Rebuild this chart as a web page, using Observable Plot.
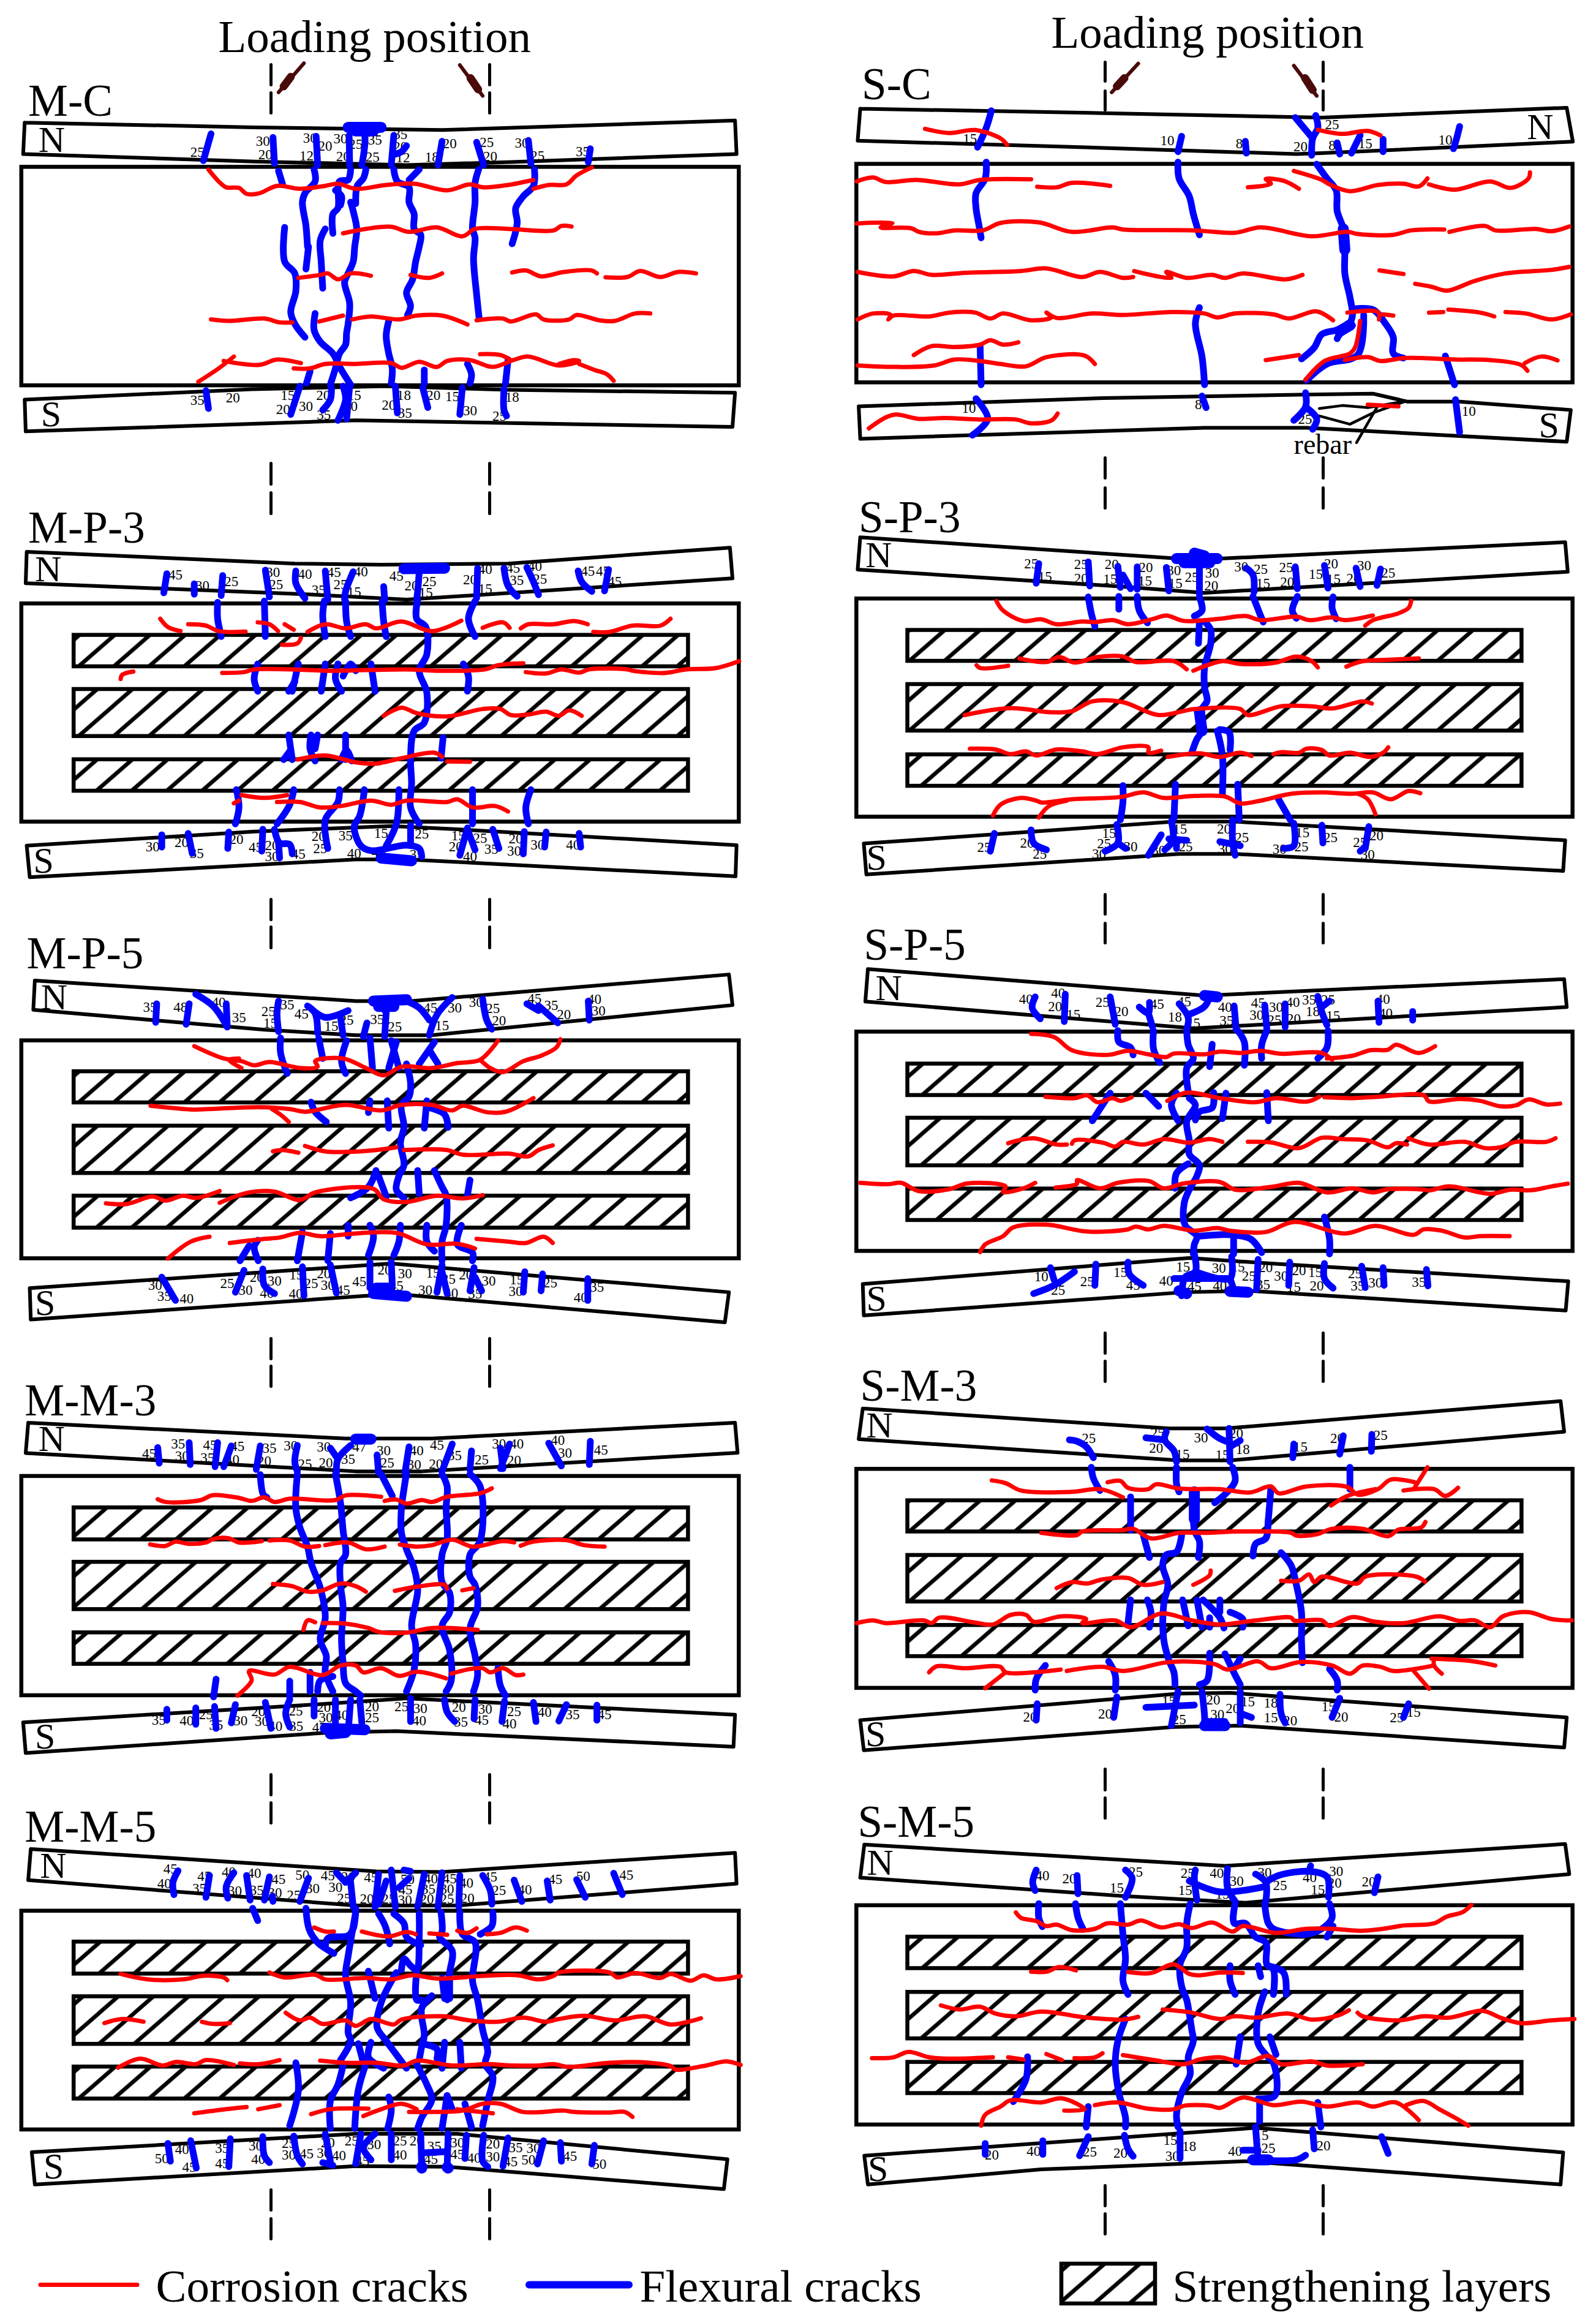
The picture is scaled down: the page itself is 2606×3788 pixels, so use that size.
<!DOCTYPE html>
<html><head><meta charset="utf-8">
<style>html,body{margin:0;padding:0;background:#fff;overflow:hidden}svg{display:block}</style>
<script src="https://cdn.jsdelivr.net/npm/d3@7"></script>
<script src="https://cdn.jsdelivr.net/npm/@observablehq/plot@0.6"></script>
</head><body><div id="chart"></div>
<script>
// Every panel's values are read in a reading frame [left, top, width, height] of the picture, with 1568 units each way.
const mcFrame=[0,0,1300,760], scFrame=[1300,0,1306,760], mp3Frame=[0,800,1300,700], mp5Frame=[0,1500,1300,700], mm3Frame=[0,2230,1300,700], mm5Frame=[0,2930,1300,700], sp3Frame=[1300,800,1306,700], sp5Frame=[1300,1500,1306,700], sm3Frame=[1300,2230,1306,700], sm5Frame=[1300,2930,1306,700];

// ---------- M-C ----------
const mcBox=[42,562,1455,1298];
const mcBeams=[[48,412,500,428,870,437,1447,405,1450,518,1000,545,800,555,500,543,45,518],[48,1345,495,1310,760,1300,1000,1312,1447,1322,1442,1437,870,1420,700,1415,50,1452]];
const mcFlex=[[415,450,400,540],[537,462,540,550],[548,575,556,620],[622,458,625,555],[618,570,620,610,600,650,595,680,602,760,605,830],[607,830,602,905],[687,455,688,555],[710,425,718,460,712,555],[775,455,770,555],[800,490,790,510,775,520],[870,475,862,555],[938,478,952,555],[1040,472,1045,550],[1162,500,1158,545],[690,570,685,605,668,610,665,700,655,720,655,785],[720,570,715,600,703,625,700,685],[660,640,672,660,670,690],[775,570,782,610,805,630,805,680,815,720,815,770,828,790,825,830,818,880,812,940,800,985,808,1030,802,1060],[825,570,805,605],[690,680,695,710,702,770,698,830,695,880,685,920,678,950,688,1020,685,1090,682,1120,680,1160,668,1190,660,1240,650,1295],[640,770,630,810,632,880,635,970],[560,765,560,880,580,920,582,980,572,1050,580,1090,600,1135],[942,570,935,615,935,680,930,770,935,800,932,870,938,990,943,1070],[1052,570,1050,625,1030,660,1015,700,1018,750,1008,820],[620,1055,618,1110,630,1150,655,1190,670,1240,690,1295],[765,1080,760,1130,765,1190,772,1240,770,1290],[610,1250,603,1290],[835,1245,835,1290],[920,1225,928,1260,925,1290],[1000,1210,995,1290],[405,1315,410,1375],[590,1300,572,1395],[652,1300,650,1345,635,1380],[778,1300,782,1390],[832,1305,842,1372],[910,1305,905,1395],[992,1310,992,1380,997,1400],[675,1300,680,1345,665,1415],[688,1300,682,1410]];
const mcBlobs=[[685,428,750,428],[700,440,735,440]];
const mcCorr=[[410,570,430,610,445,630,470,632,485,652,510,650,545,625,590,635,640,625,665,618,700,635,760,622,815,618,880,640,925,620,950,630,1000,622,1050,605],[1050,635,1080,622,1115,620,1135,590,1165,563],[675,785,720,770,770,763,805,780,860,765,910,795,935,770,1000,770,1090,775,1105,760,1125,762],[587,935,630,925,645,920,665,940,690,920,730,928],[808,925,845,935,870,920],[1008,917,1035,910,1065,930,1110,915,1165,910,1175,920],[1192,933,1235,932,1260,912,1300,932,1335,915,1370,920],[415,1075,450,1080,520,1072,550,1085,575,1085],[628,1082,675,1062],[693,1075,730,1065,785,1075,820,1062,870,1062,920,1092],[938,1078,990,1072,1005,1082,1055,1058,1070,1075,1120,1075,1135,1060,1180,1078,1210,1080,1250,1055,1280,1055],[390,1285,430,1240,460,1200],[440,1215,510,1228,545,1210,592,1222],[578,1240,610,1240,640,1225,700,1225,770,1222,790,1238,825,1218,860,1235,880,1215,925,1212,970,1235,1010,1212,1040,1200,1100,1230,1140,1215,1130,1212,1100,1225],[945,1192,985,1195,1005,1212],[1140,1225,1170,1245,1195,1260,1208,1282]];
const mcLabels=[25,388,512,30,517,475,20,522,520,30,610,465,20,640,492,12,603,525,30,670,467,20,675,527,25,700,485,35,738,470,25,733,528,35,788,453,20,788,493,12,793,530,18,850,528,20,885,483,25,958,478,20,965,527,30,1027,480,25,1058,525,35,1147,510,35,388,1348,20,458,1340,15,566,1332,20,557,1378,30,602,1368,20,636,1332,35,637,1398,15,697,1332,30,690,1368,20,765,1365,18,795,1332,35,797,1390,20,853,1332,15,890,1335,30,925,1382,18,1008,1337,25,983,1402];

// ---------- S-C ----------
const scBox=[118,552,1522,1288];
const scBeams=[[125,365,600,380,1030,395,1510,362,1522,476,1030,515,980,518,600,497,120,473],[122,1368,600,1340,1000,1328,1130,1325,1198,1352,1300,1352,1518,1380,1510,1487,1000,1440,800,1440,125,1477]];
const scRebar=[[1025,1375,1070,1365,1120,1372,1195,1350],[1025,1400,1085,1428,1130,1390,1195,1350],[1140,1365,1098,1490]];
const scFlex=[[382,372,372,430,355,495],[755,458,748,510],[880,475,882,515],[1018,388,1022,430,1012,465,1010,522],[978,395,1012,465],[1060,480,1065,518],[1105,455,1088,515],[1150,468,1150,510],[1300,425,1295,460,1288,500],[372,545,370,600,352,650,352,700,358,760,362,800],[748,545,750,600,770,660,778,720,790,790],[1020,552,1040,600,1058,640,1060,710,1072,770,1075,840,1075,920,1085,1000,1090,1060,1085,1090],[1090,1040,1130,1042,1155,1090,1170,1135,1170,1190,1190,1205],[1085,1085,1060,1110,1030,1125,1015,1170,990,1208],[1090,1095,1065,1125,1060,1140],[1112,1060,1100,1195,1040,1225,1000,1280],[360,1165,362,1295],[790,1035,782,1090,795,1200,800,1295],[1272,1198,1290,1295],[352,1342,375,1410,345,1465],[795,1333,803,1372],[998,1322,998,1370,975,1415],[998,1370,1020,1410,1012,1445],[1292,1345,1300,1455]];
const scBlobs=[[1072,770,1075,840],[1085,1095,1065,1115]];
const scCorr=[[252,433,300,447,350,437,400,465,413,487],[1022,436,1070,450,1120,440,1145,455],[118,610,150,597,175,612,235,605,320,620,360,605,460,603],[472,628,510,630,540,615,615,625],[885,630,930,618,920,602,955,608,985,635],[975,575,1030,605,1045,620,1085,643,1140,622,1190,618,1220,627,1237,600],[1240,620,1290,638,1360,610,1400,632,1435,600,1438,580],[118,752,188,750,165,765,225,768,240,780,275,785,310,775,365,775,400,750,475,748,540,780,620,765,640,772,780,775,860,783,910,765,1010,795,1080,780,1100,787,1170,790,1205,775,1270,772],[1280,780,1350,760,1370,775,1450,770,1480,778,1515,762],[120,915,190,930,230,912,265,925,330,918,440,912,490,903,560,932,595,915,640,935,660,932],[662,912,735,935,725,915,765,935,815,925,840,935,875,920,960,940,992,925],[1143,910,1190,922],[1213,955,1245,965,1275,978,1330,945,1390,920,1480,908,1515,898],[120,1075,150,1055,185,1060,180,1075,190,1062,260,1065,300,1052,350,1052,380,1072,405,1055,460,1078,500,1068,490,1052,510,1070,580,1055,640,1060,735,1050,800,1055,825,1068,860,1055,935,1058,965,1072,1020,1048,1052,1078],[1080,1052,1140,1050,1142,1075],[1150,1058,1170,1062],[1240,1052,1268,1050],[1278,1042,1340,1052,1368,1065],[1390,1050,1430,1055,1480,1075,1518,1058],[230,1195,265,1165,310,1168,360,1160,380,1145,405,1160,435,1152],[120,1230,190,1235,270,1230,310,1210,360,1215,400,1225,450,1233,490,1202,565,1197,585,1225],[920,1212,985,1195],[1105,1080,1095,1170,1085,1190,1035,1215,998,1278],[1075,1212,1120,1202,1145,1215,1190,1205,1225,1205,1290,1210,1360,1212,1420,1228,1433,1248],[1428,1222,1460,1200,1492,1213],[142,1442,175,1405,195,1395,240,1410,290,1407,360,1412,430,1412,460,1425,500,1415,512,1392],[1120,1362,1180,1368]];
const scLabels=[15,340,467,10,727,473,8,868,483,25,1050,420,20,988,493,8,1050,490,15,1115,483,10,1272,470,10,338,1375,8,788,1362,25,997,1412,10,1318,1385];

// ---------- M-P-3 ----------
const mp3Box=[42,415,1455,1213];
const mp3Layers=[[145,530,1355,645,155],[145,728,1355,900,155],[145,985,1355,1100,190]];
const mp3Beams=[[52,225,580,268,750,272,1000,268,1437,210,1442,322,800,400,600,380,50,340],[52,1300,500,1248,770,1228,900,1240,1450,1298,1448,1412,800,1350,700,1350,58,1415]];
const mp3Flex=[[328,305,322,375],[382,342,382,380],[438,312,435,385],[522,292,530,390],[582,295,582,340,600,395],[640,295,645,400],[695,298,680,370,678,400],[755,352,757,400],[825,300,822,370,820,400],[940,285,938,395],[992,285,1000,350,1018,388],[1037,282,1050,335,1060,382],[1138,295,1145,335,1165,370],[1198,290,1190,368],[428,410,428,470,435,535],[520,405,522,535],[638,405,635,460,640,535],[680,405,682,480,690,535],[752,405,755,480,760,535],[822,400,820,470,838,500,840,600,825,660,840,740,835,850,815,880,808,980,810,1070,808,1160,825,1220],[935,405,922,470,935,535],[507,635,500,690,507,735],[587,635,575,735],[568,735,580,700],[640,635,632,735],[665,635,660,690,672,735],[700,660,690,635,675,680],[730,635,738,735],[912,635,922,680,920,735],[568,895,575,985],[558,985,572,950],[612,895,610,945,620,990],[625,895,620,945],[680,895,680,985],[672,985,682,950,692,990],[872,905,868,980],[465,1095,470,1160,463,1220],[578,1095,570,1150,545,1220],[668,1095,665,1140,640,1205,645,1310],[717,1095,708,1190,697,1230,710,1300,730,1318,800,1298,825,1310,830,1340],[785,1095,780,1220,760,1300],[808,1225,808,1300],[930,1095,930,1220],[1045,1095,1035,1160,1040,1220],[318,1260,318,1305],[370,1255,378,1328],[450,1250,448,1310],[517,1240,515,1320],[540,1240,550,1290,570,1295,575,1330],[550,1345,548,1290],[920,1235,905,1335],[920,1240,935,1315],[970,1240,982,1310],[1032,1248,1030,1330],[1075,1250,1072,1305],[1140,1255,1143,1305]];
const mp3Blobs=[[795,287,875,285],[750,1345,810,1355]];
const mp3Corr=[[315,470,330,500,355,515],[370,490,405,495,430,515,483,517],[507,483,530,490,547,515],[560,490,578,510],[605,518,640,490,680,505,720,490,740,505,790,480,850,515,908,477],[950,503,990,483,1003,503],[1025,505,1040,490,1090,490,1130,478,1157,490],[1168,518,1200,518,1245,495,1300,495,1320,470],[555,565,585,560,592,540],[237,690,240,675,262,663],[437,668,480,665,500,655,600,657,650,660,800,655,860,660,955,655,980,640,1030,633],[1035,665,1075,670,1105,655,1140,667,1160,655,1235,655,1245,660,1310,668,1350,655,1410,650,1455,625],[755,825,790,795,820,815,880,827,950,800,985,800,1005,822,1040,820,1075,810,1100,825,1120,805,1145,825],[585,985,640,970,700,995,740,1000,755,995,790,980,855,960,870,975],[880,992,925,993],[475,1115,520,1125,565,1115],[460,1145,470,1135],[545,1140,590,1140,630,1160,670,1155,730,1135,770,1150,800,1135,880,1140,900,1130,930,1160,975,1155,1000,1175]];
const mp3Labels=[45,345,310,30,398,350,25,455,333,30,537,300,25,543,345,40,600,308,35,627,365,45,657,300,25,670,345,40,710,298,15,697,372,45,780,313,20,810,350,25,845,335,15,838,375,40,955,290,20,925,327,15,955,362,45,1010,285,35,1017,330,40,1053,278,25,1063,325,45,1157,295,45,1187,295,45,1210,335,30,300,1303,20,357,1288,35,387,1328,20,465,1278,45,503,1307,20,535,1300,30,535,1340,45,587,1330,20,627,1265,25,630,1310,35,680,1263,40,697,1328,15,750,1255,45,745,1325,25,830,1258,35,820,1333,15,902,1263,25,945,1272,20,897,1303,40,925,1340,35,967,1312,20,1015,1275,30,1012,1320,30,1058,1298,40,1128,1298];

// ---------- M-P-5 ----------
const mp5Box=[42,445,1455,1242];
const mp5Layers=[[145,558,1355,672,155],[145,757,1355,930,155],[145,1013,1355,1130,190]];
const mp5Beams=[[68,225,700,300,810,300,1435,203,1442,315,850,425,700,425,520,405,65,332],[58,1350,770,1260,1435,1365,1427,1475,800,1375,720,1378,60,1465]];
const mp5Flex=[[308,310,306,378],[372,310,366,385],[385,275,420,320,447,395],[445,310,447,395],[548,300,545,345,548,412],[605,318,620,345,625,418],[610,325,640,360,685,335],[670,360,675,425],[722,380,715,430],[740,300,760,340],[760,340,757,430],[800,300,825,325,845,370],[890,287,860,350,845,425],[950,293,958,370,968,403],[1037,310,1060,335],[1060,318,1098,380],[1158,300,1160,370],[552,435,552,490,565,565],[627,435,635,510],[682,445,672,520,680,565],[728,435,733,545],[780,450,765,545],[770,445,785,545],[855,450,825,530],[845,480,862,530],[800,530,808,600,805,650,790,680,795,760,788,820,795,900,785,940,780,990,795,1020],[612,670,620,705,642,742],[728,665,725,708],[762,665,765,765],[840,665,835,765],[845,690,875,715,882,762],[740,920,725,980,690,1020],[745,940,760,1015],[822,920,825,1005],[855,920,870,980,878,1010,878,1120,870,1180,870,1250],[925,955,920,1010],[685,1120,685,1160],[728,1120,735,1160,725,1230],[788,1120,785,1180,775,1230],[840,1120,840,1180,855,1215],[908,1120,900,1190,930,1220,930,1250],[650,1150,645,1250],[595,1145,585,1250],[490,1195,472,1250],[507,1175,500,1200,508,1250],[318,1310,345,1395],[480,1285,463,1365],[517,1280,520,1340,540,1370],[595,1272,598,1378],[650,1265,662,1368],[728,1255,728,1350],[770,1255,772,1340],[870,1265,860,1365],[870,1290,880,1370],[933,1275,925,1360],[935,1310,948,1360],[1033,1290,1030,1365],[1068,1298,1065,1360],[1157,1315,1157,1395]];
const mp5Blobs=[[735,300,800,295],[745,320,775,320],[735,1370,800,1380],[740,1350,765,1350]];
const mp5Corr=[[382,465,440,510,475,520,500,535,530,523,590,545,625,540,620,520,675,510,720,545,755,572,790,540,850,545,900,527,945,515,980,445],[470,510,450,515,475,545],[945,515,965,545,990,560,1030,520,1065,500,1095,470,1103,440],[296,683,380,697,410,695,510,688,570,695,600,705,680,680,750,700,790,680,850,680,890,700,910,683,960,707,995,705,1050,655],[535,695,555,720,568,742],[537,850,555,845,587,855],[600,830,640,850,680,852,740,845,780,835],[795,845,880,845,910,862,1000,858,1040,868,1060,845,1088,828],[208,1040,250,1042,300,1015,325,1030,360,1012,385,1020,432,995],[432,1038,490,1000,540,997,590,1028,620,1000,735,987,755,1025,800,1035,860,1012,910,1022,950,1010],[330,1242,375,1180,412,1162],[452,1185,520,1170,550,1165,590,1148,630,1160,700,1150,780,1148,840,1190,900,1188,935,1205],[938,1170,1000,1180,1035,1185,1070,1162,1088,1185]];
const mp5Labels=[35,295,323,48,355,322,40,430,305,35,470,362,35,565,313,25,528,338,15,532,380,45,593,347,15,652,392,25,682,370,35,742,367,25,777,395,45,847,325,30,895,325,15,870,390,30,937,305,25,970,327,20,982,372,45,1052,292,35,1085,315,20,1110,350,40,1170,293,30,1178,337,30,305,1340,35,323,1380,40,367,1388,25,447,1332,30,483,1357,20,505,1310,30,540,1323,40,525,1370,15,583,1302,25,612,1332,40,582,1372,20,637,1298,30,645,1340,45,675,1358,45,707,1327,20,757,1283,30,797,1298,45,780,1342,15,852,1295,25,883,1317,30,837,1358,40,888,1368,20,917,1302,30,962,1325,35,935,1372,15,1017,1320,30,1015,1362,25,1083,1330,35,1175,1347,40,1143,1385];

// ---------- M-M-3 ----------
const mm3Box=[42,403,1455,1205];
const mm3Layers=[[145,518,1355,635,208],[145,717,1355,890,210],[145,975,1355,1090,170]];
const mm3Beams=[[55,207,680,265,850,265,1447,207,1452,317,830,385,700,385,50,318],[45,1303,600,1240,800,1215,1447,1275,1444,1392,780,1335,650,1340,50,1415]];
const mm3Flex=[[310,298,313,355],[372,280,374,360],[428,280,423,368],[455,292,440,368],[512,292,504,378],[585,290,580,350,585,385],[650,300,665,340],[690,290,665,340,662,390],[742,325,745,390],[805,295,797,390],[890,285,870,385],[928,310,925,380],[985,300,990,375],[1003,285,985,375],[1080,282,1105,365],[1162,275,1160,360],[512,397,518,470,525,480],[585,395,582,520,590,590,605,660,612,720,630,810,640,920,630,1000,642,1060,640,1120,655,1190],[660,395,670,500,675,600,680,690,670,720,670,800,675,880,672,1000,675,1085,680,1160,700,1190,710,1205],[750,395,772,475],[800,390,795,450,790,520,790,610,800,670,815,740,822,820,810,950,818,1020,815,1110,800,1190],[870,395,880,440,878,520,880,630,870,690,870,790,885,830,885,900,870,950,885,1040,888,1150,878,1190],[925,395,945,440,945,640,925,690,925,770,935,800,940,880,925,960,935,1060,940,1130,932,1190],[425,1145,420,1210],[570,1152,570,1210],[610,1120,610,1190],[625,1190,630,1150,655,1135],[980,1105,985,1170,995,1205],[328,1255,328,1295],[385,1250,385,1310],[422,1245,425,1325],[463,1238,455,1305],[522,1230,533,1325],[570,1220,562,1270,570,1320],[618,1220,618,1280],[660,1220,660,1340],[690,1220,685,1340],[708,1220,712,1305],[808,1215,808,1300],[875,1220,880,1265,895,1300],[935,1220,933,1290],[993,1225,988,1300],[1050,1230,1055,1300],[1115,1238,1100,1298],[1175,1240,1175,1295]];
const mm3Blobs=[[700,267,730,267],[640,1325,718,1330],[650,1345,680,1340]];
const mm3Corr=[[310,487,325,497,395,490,418,472,470,482,495,493,520,480,540,497,570,485,660,490,680,473,750,478],[757,493,780,488,800,503,830,490,850,497,880,478,945,465,968,447],[295,652,325,658,345,642,370,650,405,645,420,632,450,630,470,645,515,640],[530,638,570,638,600,660,628,658],[640,655,685,645,720,670,757,660],[787,653,820,660,850,655,890,635,930,660,990,640,1012,645],[1025,657,1050,642,1115,637,1150,655,1190,660],[537,797,575,805,605,825,635,820,670,795,700,805,720,825],[777,822,820,807,875,800,880,815],[910,820,932,812],[597,965,605,930,620,937],[635,940,680,942,725,958,745,972,800,975,850,958,940,965],[467,1205,495,1150,490,1115,540,1128,570,1100,635,1130,670,1095,700,1095,715,1120,750,1105,785,1133,820,1118,878,1142],[888,1125,925,1108,950,1105,965,1120,990,1105,1015,1130,1030,1128]];
const mm3Labels=[45,293,320,35,350,285,30,358,330,45,413,290,35,408,337,45,467,293,40,457,343,35,530,300,20,520,348,30,572,292,25,600,358,30,637,295,20,641,355,35,685,340,47,707,295,30,755,310,25,762,355,40,820,310,30,815,360,45,860,290,20,858,358,35,895,327,25,948,343,30,982,285,40,1017,285,20,1012,345,40,1098,272,30,1112,318,45,1183,307,35,312,1295,40,367,1298,25,405,1275,35,425,1312,30,473,1297,20,508,1263,30,515,1300,40,542,1318,25,582,1262,35,583,1318,20,637,1248,30,641,1285,47,628,1322,40,672,1277,20,732,1245,25,732,1287,25,790,1245,30,827,1253,40,825,1297,20,903,1248,35,907,1302,30,955,1255,45,948,1295,25,1012,1263,40,1003,1308,40,1072,1265,35,1127,1275,45,1190,1275];

// ---------- M-M-5 ----------
const mm5Box=[42,425,1455,1225];
const mm5Layers=[[145,538,1355,655,195],[145,738,1355,912,195],[145,995,1355,1112,155]];
const mm5Beams=[[60,198,740,280,870,282,1447,212,1450,325,900,405,700,405,55,312],[62,1307,700,1240,900,1240,1432,1333,1425,1442,880,1360,700,1358,68,1425]];
const mm5Flex=[[350,278,340,320,342,365],[412,295,405,375],[460,285,445,335,448,378],[485,295,492,385],[530,300,520,385],[536,370,537,390],[607,305,590,390],[662,285,680,320],[680,320,700,285],[690,320,695,410],[745,290,738,410],[760,315,745,400],[770,275,778,410],[795,275,808,280],[805,305,785,340],[835,290,822,410],[870,285,862,410],[905,295,903,410],[950,295,965,350,968,400],[1012,312,1027,390],[1077,315,1083,385],[1135,310,1152,375],[1208,287,1225,365],[497,415,507,460],[602,415,608,490,625,540,657,580],[700,415,695,490,685,515,645,525,640,560],[700,430,685,590,680,660,690,760,685,870,690,900,670,970],[745,435,758,480,767,545],[775,435,795,470,800,520,828,550],[825,435,825,520,820,640,808,625,795,600,790,640],[868,430,870,500,865,520,890,570,885,650,880,750],[905,430,910,510,935,540,930,680,940,750,950,860,960,940,955,985,970,1030,960,1120,950,1210],[970,430,968,480,945,510],[725,645,738,745],[780,650,750,760,742,850,760,900,780,950,800,1000],[820,650,820,750,830,750],[850,735,830,780,835,880,830,920,825,970],[870,670,875,745],[885,680,885,745],[830,910,860,930,860,965],[875,905,870,1000],[705,910,715,980],[730,905,725,960,755,1000],[905,905,908,1000],[582,980,587,1080,570,1210],[675,990,665,1060,650,1120,650,1220],[720,985,705,1080,698,1220],[820,985,840,1060,850,1115,830,1180,822,1220],[765,1105,770,1150,763,1220],[880,1100,870,1220],[880,1100,890,1150],[915,1130,928,1215],[330,1275,335,1340],[375,1265,386,1365],[453,1258,450,1360],[517,1250,520,1320,530,1345],[578,1248,585,1320,595,1350],[640,1240,650,1340],[635,1345,655,1355],[710,1240,700,1350],[738,1240,715,1290,730,1335],[770,1240,770,1335],[828,1240,830,1365],[882,1240,880,1365],[830,1310,880,1305],[918,1245,915,1330],[952,1245,950,1340,960,1360],[1000,1255,990,1358],[1070,1265,1058,1350],[1103,1272,1105,1340],[1170,1282,1165,1350]];
const mm5Blobs=[[830,1360,830,1365],[880,1362,882,1365]];
const mm5Corr=[[618,485,640,500,657,500],[712,500,765,518,800,502,818,510],[845,507,880,512],[900,497,920,505,938,488],[958,510,985,505,1015,485,1037,497],[237,655,290,675,360,675,400,662,440,668,447,678],[530,650,560,668,620,658,640,675,720,670,770,675,810,660,860,672,930,665,970,660,1020,660,1060,675,1090,662,1100,650,1200,650,1215,668,1250,652,1300,670,1320,655,1360,680,1385,660,1410,675,1458,663],[205,835,240,820,282,830],[397,830,420,838,452,835],[562,797,590,825,610,815,635,838,680,825,700,845,730,820,775,840,790,822,870,810,925,825,980,830,1030,815,1075,830,1100,820,1150,808,1210,825,1270,810,1320,840,1380,817],[232,998,275,965,320,990,345,977,385,985,405,970,460,988],[472,982,510,985,550,970],[630,972,680,980,740,980,795,990,820,972,890,990,960,985,1010,990,1060,990,1090,985,1120,995,1200,980,1260,978,1320,992,1330,1005,1390,990,1430,975,1458,988],[382,1165,435,1152,485,1142],[508,1150,550,1135],[612,1168,650,1150,725,1148],[715,1175,750,1150,790,1130,820,1150],[805,1160,850,1160,910,1155,950,1130,985,1130,1030,1160,1110,1155,1130,1160,1200,1162,1230,1160,1245,1178],[900,1150,970,1165]];
const mm5Labels=[45,335,272,40,323,325,45,402,298,35,392,343,40,450,283,30,462,352,40,500,288,35,505,350,30,541,358,45,548,310,25,578,368,50,595,293,30,615,342,45,645,297,30,660,338,25,677,378,20,685,300,45,730,302,20,722,382,25,765,382,50,802,310,45,798,348,30,797,385,40,848,307,35,843,345,20,840,382,45,885,307,30,880,345,25,880,382,40,918,322,20,920,378,45,965,300,25,982,350,40,1033,348,45,1093,310,50,1148,298,45,1233,293,50,318,1330,40,358,1297,45,372,1362,35,437,1292,45,437,1348,30,503,1283,40,508,1332,25,568,1275,30,568,1318,45,603,1313,30,637,1310,20,645,1272,40,667,1320,25,692,1265,45,713,1340,30,736,1280,25,787,1265,20,820,1265,40,787,1317,35,855,1285,45,848,1332,30,900,1272,45,900,1315,40,933,1328,20,970,1278,30,970,1325,35,1015,1290,45,1005,1342,30,1050,1293,50,1040,1335,45,1122,1322,50,1180,1352];

// ---------- S-P-3 ----------
const sp3Box=[118,397,1522,1195];
const sp3Layers=[[218,512,1422,625,222],[218,710,1422,880,222],[218,967,1422,1082,245]];
const sp3Beams=[[125,172,735,248,830,250,1507,190,1512,298,800,375,620,350,120,290],[132,1292,740,1212,860,1212,1507,1280,1503,1392,860,1330,750,1330,137,1405]];
const sp3Flex=[[475,268,470,340],[572,262,575,350],[630,278,635,355],[640,310,655,360],[668,280,668,362],[725,282,730,368],[790,270,790,380],[882,285,895,310,897,372],[978,280,982,360],[1035,275,1042,358],[1097,285,1105,352],[1145,288,1138,348],[572,390,578,450,585,497],[632,388,632,435],[668,388,672,440,688,485],[790,390,795,440,780,460],[895,388,908,450,915,482],[982,388,972,440,980,468],[1052,390,1050,430,1058,470],[790,480,788,560],[800,480,812,510,812,560,800,650,800,720,805,770,795,800,795,880,785,910,775,960],[830,875,848,885,850,950],[825,880,835,970,835,1110],[640,1080,640,1140,635,1205],[743,1075,740,1200],[865,1075,868,1205],[945,1130,968,1205],[388,1255,380,1320],[460,1242,465,1290,490,1315],[628,1222,630,1290,605,1320],[630,1290,645,1310],[715,1260,690,1335],[735,1210,738,1280,722,1315],[730,1275,765,1280],[745,1285,745,1310],[855,1205,855,1285,860,1335],[830,1285,870,1300],[975,1218,975,1300,955,1310],[1030,1225,1032,1290],[1122,1230,1115,1310],[1105,1320,1115,1305]];
const sp3Blobs=[[745,250,825,250],[760,265,810,265],[780,230,800,240],[790,810,795,880]];
const sp3Corr=[[392,405,405,440,445,478,480,472,510,490,560,480,585,482,620,475,650,490,700,470,725,458,760,478,830,470,880,460,910,475,980,462,1005,475,1050,465,1075,475,1130,458],[1115,495,1130,475,1180,450,1200,430,1205,405],[353,640,360,650,415,642],[437,615,490,628,515,610,545,630,590,610,640,608,665,628,740,625,765,655],[778,660,835,625,870,635,940,630,980,608,1010,625,1022,648],[1078,645,1110,625,1160,620,1220,615],[330,822,420,797,500,812,540,808,580,772,640,775,710,822,780,800,870,800,885,822,950,790,1010,790,1050,798,1110,772,1128,780],[340,945,390,948,420,965,450,955,470,970,510,948,560,955,590,965,640,940,690,940,690,960,715,952],[728,975,790,962,830,975,870,960,892,972],[935,965,950,958,985,960,1000,945,1030,950,1045,970,1085,960,1125,975,1150,960,1160,940],[385,1190,400,1150,440,1125,470,1135,480,1142,540,1130,635,1122,680,1105,720,1125,780,1118,840,1120,870,1145,910,1135,970,1110,1030,1105,1090,1110,1130,1105,1165,1130,1200,1100,1223,1108],[475,1197,495,1155,530,1135],[1100,1110,1120,1130,1135,1185]];
const sp3Labels=[25,460,268,15,487,315,25,558,272,20,558,322,20,618,272,15,615,325,20,685,282,15,683,332,30,740,293,15,743,340,25,775,318,30,815,302,20,813,350,30,872,280,25,910,290,15,915,340,25,960,283,20,962,337,15,1018,308,20,1048,268,15,1053,325,30,1113,275,20,1092,322,25,1160,303,25,368,1307,20,452,1290,25,477,1330,15,613,1255,25,603,1292,30,593,1330,30,655,1305,30,710,1318,15,752,1240,25,763,1303,20,838,1238,25,873,1270,30,840,1313,30,947,1313,15,992,1252,25,990,1303,25,1047,1270,25,1105,1288,20,1137,1263,30,1120,1333];

// ---------- S-P-5 ----------
const sp5Box=[118,413,1522,1215];
const sp5Layers=[[218,530,1422,645,247],[218,728,1422,902,245],[218,987,1422,1102,275]];
const sp5Beams=[[140,183,800,280,1505,220,1510,322,780,400,135,302],[130,1335,770,1240,930,1260,1513,1325,1508,1432,890,1360,760,1365,132,1450]];
const sp5Flex=[[468,285,462,325,478,365],[527,275,525,375],[615,285,625,385],[692,305,690,345,672,322],[690,345,698,395],[750,310,768,360,765,405],[768,350,800,320,810,285],[858,318,862,405],[918,315,922,400],[958,310,958,395],[1022,283,1030,340,1040,388],[1045,300,1030,322],[1140,300,1142,378],[1208,338,1208,370],[630,408,632,450,655,470,660,497],[700,408,700,475,712,525],[765,410,768,460,778,510,765,545,768,630],[815,458,810,540],[865,408,878,450,878,535],[922,408,912,460,912,510],[1042,408,1040,470,1022,510],[615,637,600,680,580,738],[685,637,710,685],[745,637,735,680,748,738],[770,655,782,680,765,740,770,810,770,860,790,900,785,940,770,990,760,1040,762,1120,785,1160,780,1190,778,1225],[818,635,815,690,790,705,782,735],[842,637,835,730],[922,635,925,738],[768,895,745,930,742,985],[790,1160,850,1155,890,1170,912,1220],[857,1170,857,1225],[1035,1090,1045,1170,1045,1225],[498,1275,505,1320],[545,1290,505,1340,465,1370],[587,1262,585,1340],[650,1255,653,1300,680,1340],[780,1225,782,1290,762,1310,755,1378],[740,1315,850,1315],[782,1290,850,1315,853,1235],[850,1315,860,1370],[905,1245,902,1355],[967,1255,965,1340],[1035,1260,1035,1315,1052,1350],[1108,1270,1115,1348],[1150,1275,1152,1340],[1235,1282,1238,1342]];
const sp5Blobs=[[800,280,825,285],[750,1360,765,1370],[850,1362,885,1365]];
const sp5Corr=[[460,420,505,432,540,480,610,497,650,482,690,495,725,505,740,492,800,495,830,485,870,490,910,482,950,493,1030,490,1050,515],[1040,510,1090,500,1125,480,1160,478,1175,460,1220,490,1252,465],[488,650,545,655,570,645,590,670,620,655,635,665,657,652],[727,665,765,635,830,655,900,670,940,655,1000,668,1025,650],[1035,652,1090,655,1140,650,1230,645,1240,667,1300,658,1340,665,1380,685,1410,682,1435,660,1470,678,1497,675],[415,820,465,802,510,825,530,825],[540,822,545,810,600,818,625,832,640,815,680,825,720,805,770,818,810,805,835,815],[885,815,930,817,985,838,1030,800,1070,805,1120,810,1160,835,1175,820,1197,825],[1200,802,1240,825,1310,815,1350,838,1380,835,1410,815,1470,815,1488,802],[125,965,180,970,205,965,240,995,300,988,335,967,410,978,405,998,445,985,468,965],[508,982,550,968,550,955,595,985,630,965,690,958,720,985,760,967,830,962,860,990,930,980,985,965,1040,1000,1090,985,1130,1000,1160,988,1230,990,1240,993,1280,978,1360,1005,1400,990,1440,992,1480,978,1512,968],[360,1218,370,1190,405,1160,425,1128,490,1118,570,1143,650,1135,665,1125,690,1135,720,1122,780,1140,825,1130,850,1140,920,1145,975,1108,1075,1150,1135,1122,1210,1155,1230,1135,1265,1140,1310,1165,1340,1160,1398,1160]];
const sp5Labels=[40,450,293,40,513,272,20,507,320,15,543,350,25,600,305,20,637,338,45,707,312,45,760,302,18,742,358,15,778,380,40,840,323,35,843,373,45,905,307,30,902,352,30,940,323,25,937,370,40,973,305,20,975,365,35,1005,295,25,1042,295,18,1012,338,15,1052,355,40,1150,293,40,1155,345,10,480,1308,25,513,1357,25,570,1327,15,635,1293,45,660,1340,15,758,1273,40,725,1325,45,780,1345,30,828,1278,40,830,1343,15,865,1272,20,920,1275,25,887,1307,35,915,1337,30,950,1307,20,985,1287,15,975,1347,15,1017,1292,20,1020,1342,25,1095,1298,35,1100,1342,30,1135,1330,35,1220,1328];

// ---------- S-M-3 ----------
const sm3Box=[118,377,1522,1178];
const sm3Layers=[[218,492,1422,606,222],[218,692,1422,862,222],[218,948,1422,1062,255]];
const sm3Beams=[[130,155,730,228,840,228,1498,128,1505,240,850,345,750,345,122,267],[125,1295,750,1198,850,1195,1510,1285,1505,1395,870,1315,740,1320,132,1405]];
const sm3Flex=[[535,270,550,275,568,295,582,335],[725,240,722,270,740,310,745,350],[685,262,722,270],[805,230,830,265,850,280],[848,228,850,350],[870,272,850,295],[975,285,973,335],[1072,255,1065,322],[1128,250,1127,312],[578,370,582,410,595,455],[745,370,745,430,750,460],[855,370,860,420,845,460,820,500],[1085,370,1085,450],[655,478,655,600],[780,460,780,600,790,640,788,700],[930,445,925,560,920,630,900,650,895,695],[680,618,692,700],[755,620,745,680,725,690,718,730,728,800,720,870,720,1000,730,1075,740,1120,742,1165],[950,682,970,730,980,800,990,900,990,1000,992,1085],[655,855,650,940],[688,855,695,900,692,955],[757,855,768,950],[785,855,795,955],[797,855,830,920,838,958],[830,855,830,900],[850,900,875,925,875,955],[810,920,810,955],[810,1050,805,1150,790,1165],[840,1052,860,1130,870,1165],[870,1070,860,1100],[488,1095,470,1145,468,1185],[612,1080,625,1130,625,1185],[1045,1108,1060,1150,1060,1185],[472,1235,470,1295],[628,1210,622,1285],[748,1190,735,1315],[685,1248,780,1240],[795,1190,800,1280,800,1320],[800,1300,840,1300],[870,1190,870,1305],[870,1270,892,1285],[948,1200,950,1270,958,1305],[1065,1215,1050,1285],[1200,1235,1190,1285]];
const sm3Blobs=[[800,1315,840,1315],[780,460,780,560]];
const sm3Corr=[[383,418,410,428,440,455,540,460,595,450,640,480],[610,425,635,420,650,445,690,450,705,432,750,448,830,450,890,462,930,440,945,465,1000,440,1080,442,1100,470,1140,450,1165,415,1212,425],[1048,510,1080,475,1135,450],[1237,370,1210,450],[1190,455,1250,450,1272,475,1297,445],[480,610,550,618,560,605,640,600,660,595,695,630,750,610,800,610,870,605,970,610,980,620,1020,615,1050,595,1110,595,1160,622,1180,598,1225,590,1233,570],[510,812,540,790,570,795,600,780,650,775,680,800,718,790],[778,800,810,765,812,748],[950,785,985,785,1005,762,1015,790,1030,770,1100,795,1115,770,1215,770,1232,788],[118,940,150,930,175,940,250,930,265,940,280,920,350,938,385,945,420,910,450,910,465,935,520,915,568,925,560,940,625,930,655,955,715,905,775,930,830,945,900,930,970,920,975,930,1030,930,1045,950,1090,918,1135,935,1190,940,1260,915,1300,932,1330,930,1360,955,1385,915,1435,900,1480,925,1520,930],[260,1120,275,1098,330,1105,400,1100,410,1120,518,1110],[530,1115,600,1100,640,1115,720,1085,760,1080,820,1090,845,1110,905,1080,930,1105,990,1082,1050,1095,1085,1125,1110,1095,1145,1100,1170,1115,1250,1095],[370,1178,410,1120],[1245,1070,1320,1078,1370,1095],[1250,1070,1250,1095,1265,1125],[1210,1115,1240,1180]];
const sm3Labels=[25,573,265,25,708,245,20,705,300,15,757,322,30,793,262,20,862,247,15,835,325,18,875,305,15,988,297,20,1060,265,25,1145,253,20,458,1283,20,605,1272,15,730,1225,25,750,1292,20,817,1220,30,825,1275,20,855,1253,15,885,1228,18,930,1232,15,930,1285,20,968,1297,15,1043,1245,20,1068,1283,25,1177,1285,15,1210,1265];

// ---------- S-M-5 ----------
const sm5Box=[118,405,1522,1207];
const sm5Layers=[[218,520,1422,635,247],[218,722,1422,892,245],[218,978,1422,1092,275]];
const sm5Beams=[[133,182,840,260,1507,180,1515,290,880,395,640,370,125,303],[133,1320,900,1218,1503,1308,1498,1425,880,1340,480,1370,140,1425]];
const sm5Flex=[[470,275,463,320,468,350],[550,295,552,362],[645,275,658,305,645,375],[782,275,780,300,785,385],[770,315,830,355,920,335],[845,270,845,340,860,390],[900,290,920,320,920,390],[920,320,945,295,1005,280,1040,300,1043,375],[1008,260,1005,280],[1140,300,1133,358],[475,398,475,450,482,482],[547,398,552,450,562,492],[635,398,640,510,645,600,640,680,650,730],[772,398,765,470,765,560,752,620,755,700,765,750,770,800,775,860,778,900,768,960,772,1020,755,1090,745,1170,748,1215],[860,398,858,470,880,470,900,520,920,540,922,620,935,640,935,730],[918,398,925,470,935,490,1000,510,1030,490,1050,450,1045,398],[1040,520,1052,480],[905,625,910,665],[925,625,955,650,960,730],[850,625,850,680,860,730],[918,720,905,800,905,910,920,950,935,980,938,1100,905,1112],[645,820,630,900,625,990,632,1090,645,1180,645,1215],[870,885,862,985],[928,885,940,950],[453,958,450,1040,425,1122],[572,1140,568,1215],[908,1120,908,1195],[1022,1125,1028,1215],[370,1275,370,1315],[483,1265,483,1315],[572,1250,555,1320],[643,1245,650,1295,660,1322],[752,1230,752,1330],[900,1215,905,1340],[875,1300,905,1300],[890,1335,980,1335,998,1318],[1012,1225,1015,1295],[1147,1250,1160,1312]];
const sm5Blobs=[[895,1335,925,1335]];
const sm5Corr=[[430,430,440,450,470,462,490,480,510,475,540,495,585,490,610,470,650,475,675,460,715,485,750,473,775,487,815,467,855,500,875,480,940,505,1000,490,1050,490,1105,497,1150,490,1190,478,1250,470,1275,445,1305,430,1323,403],[460,647,490,647,515,630,548,642],[650,648,695,652,740,620,770,655,790,660,830,650,875,652],[283,770,320,785,360,775,390,800,430,810,480,793,570,815,640,822,670,812],[718,785,770,795,830,820,860,810,900,815,965,800,1010,822,1060,808,1083,788],[1100,797,1110,810,1180,825,1230,810,1280,815,1345,790,1380,815,1420,835,1480,825,1525,820],[148,963,190,960,220,940,260,960,310,965,385,960],[415,960,445,968],[490,948,520,970],[545,963,585,960,600,945],[640,952,700,970,760,985,790,968,830,960,880,980,925,955,950,985,1010,975,1040,990,1110,985],[362,1210,370,1170,400,1140,420,1117,480,1125,520,1110,565,1150,525,1155],[585,1135,630,1125,690,1148,740,1150,760,1137,810,1137,830,1145,875,1107,935,1135,990,1122,1040,1140,1100,1125,1130,1140,1175,1125,1220,1190],[1195,1135,1230,1120,1260,1150,1290,1180,1317,1210]];
const sm5Labels=[40,482,295,20,535,308,25,665,282,15,628,340,25,767,287,15,762,350,40,824,287,30,863,315,15,835,363,30,918,285,25,948,332,40,1006,302,15,1022,348,30,1058,280,20,1055,322,20,1122,318,20,383,1317,40,465,1303,25,575,1307,20,635,1310,15,733,1263,18,770,1285,30,737,1322,40,860,1303,15,912,1245,25,925,1293,20,1033,1283];

// Panel names and N / S tags: [text, x, y] in the panel's reading frame
const panelNames=[["M-C",55,340],["S-C",128,285],["M-P-3",55,140],["M-P-5",52,128],["M-M-3",48,128],["M-M-5",48,120],["S-P-3",122,100],["S-P-5",132,97],["S-M-3",125,75],["S-M-5",120,100]];
const panelTags=[[["N",75,472],["S",80,1395]],[["N",1432,428],["S",1455,1432]],[["N",68,290],["S",65,1355]],[["N",80,287],["S",68,1405]],[["N",75,268],["S",68,1355]],[["N",78,260],["S",85,1360]],[["N",135,238],["S",137,1345]],[["N",155,253],["S",137,1390]],[["N",137,218],["S",135,1348]],[["N",138,250],["S",140,1370]]];

// Loading-position dashes, in picture pixels: x, then [y1, y2] pairs
const dashXLeft=[442,799], dashXRight=[1804,2160];
const dashYLeft=[[105,138],[151,184],[756,790],[804,838],[1468,1501],[1513,1547],[2185,2218],[2230,2263],[2897,2930],[2943,2976],[3575,3608],[3622,3655]];
const dashYRight=[[101,132],[148,179],[747,780],[796,829],[1460,1492],[1507,1539],[2176,2209],[2222,2255],[2888,2922],[2935,2968],[3568,3601],[3614,3647]];
const headings=[["Loading position",356,60],["Loading position",1716,53]];
// Loading arrows in the M-C and S-C frames: shaft, then heavy part near the tip
const mcArrows=[[598,212,548,310],[905,218,950,322]], mcArrowTips=[[572,258,558,290],[926,262,941,300]];
const scArrows=[[670,213,618,310],[975,220,1020,322]], scArrowTips=[[643,262,628,290],[997,262,1012,302]];
const rebarLabel=["rebar",975,1497];

// Legend, in picture pixels
const legendCorr=[66,224,3730], legendFlex=[864,1027,3730], legendBox=[1733,3696,1886,3761,1787];
const legendTexts=[["Corrosion cracks",254,3733],["Flexural cracks",1044,3733],["Strengthening layers",1914,3733]];

const frames=[mcFrame,scFrame,mp3Frame,mp5Frame,mm3Frame,mm5Frame,sp3Frame,sp5Frame,sm3Frame,sm5Frame];
const boxes=[mcBox,scBox,mp3Box,mp5Box,mm3Box,mm5Box,sp3Box,sp5Box,sm3Box,sm5Box];
const beams=[mcBeams,scBeams,mp3Beams,mp5Beams,mm3Beams,mm5Beams,sp3Beams,sp5Beams,sm3Beams,sm5Beams];
const layers=[[],[],mp3Layers,mp5Layers,mm3Layers,mm5Layers,sp3Layers,sp5Layers,sm3Layers,sm5Layers];
const flex=[mcFlex,scFlex,mp3Flex,mp5Flex,mm3Flex,mm5Flex,sp3Flex,sp5Flex,sm3Flex,sm5Flex];
const blobs=[mcBlobs,scBlobs,mp3Blobs,mp5Blobs,mm3Blobs,mm5Blobs,sp3Blobs,sp5Blobs,sm3Blobs,sm5Blobs];
const corr=[mcCorr,scCorr,mp3Corr,mp5Corr,mm3Corr,mm5Corr,sp3Corr,sp5Corr,sm3Corr,sm5Corr];
const numbers=[mcLabels,scLabels,mp3Labels,mp5Labels,mm3Labels,mm5Labels,sp3Labels,sp5Labels,sm3Labels,sm5Labels];

const fx=(f,v)=>f[0]+v*f[2]/1568, fy=(f,v)=>f[1]+v*f[3]/1568;
let uid=0;
function polyRows(f,list,closed){
  const out=[];
  for(const p of list){
    const id=uid++;
    for(let i=0;i<p.length;i+=2) out.push({x:fx(f,p[i]),y:fy(f,p[i+1]),id});
    if(closed) out.push({x:fx(f,p[0]),y:fy(f,p[1]),id});
  }
  return out;
}
const beamRows=frames.flatMap((f,i)=>polyRows(f,beams[i],true));
const rebarRows=polyRows(scFrame,scRebar,false);
const flexRows=frames.flatMap((f,i)=>polyRows(f,flex[i],false));
const blobRows=frames.flatMap((f,i)=>polyRows(f,blobs[i],false));
const corrRows=frames.flatMap((f,i)=>polyRows(f,corr[i],false));
const arrowRows=[...polyRows(mcFrame,mcArrows),...polyRows(scFrame,scArrows)];
const tipRows=[...polyRows(mcFrame,mcArrowTips),...polyRows(scFrame,scArrowTips)];
const dashRows=[];
for(const x of dashXLeft) for(const [a,b] of dashYLeft){const id=uid++;dashRows.push({x,y:a,id},{x,y:b,id});}
for(const x of dashXRight) for(const [a,b] of dashYRight){const id=uid++;dashRows.push({x,y:a,id},{x,y:b,id});}
const boxRows=frames.map((f,i)=>({x1:fx(f,boxes[i][0]),y1:fy(f,boxes[i][1]),x2:fx(f,boxes[i][2]),y2:fy(f,boxes[i][3])}));
const layerRows=frames.flatMap((f,i)=>layers[i].map(l=>({x1:fx(f,l[0]),y1:fy(f,l[1]),x2:fx(f,l[2]),y2:fy(f,l[3]),bx:fx(f,l[4]),id:"hatch"+(uid++)})));
layerRows.push({x1:legendBox[0],y1:legendBox[1],x2:legendBox[2],y2:legendBox[3],bx:legendBox[4],id:"hatch"+(uid++)});
const labelRows=frames.flatMap((f,i)=>{const o=[],n=numbers[i];for(let k=0;k<n.length;k+=3)o.push({x:fx(f,n[k+1]),y:fy(f,n[k+2]),t:String(n[k])});return o;});
const nameRows=frames.map((f,i)=>({x:fx(f,panelNames[i][1]),y:fy(f,panelNames[i][2]),t:panelNames[i][0]}));
const tagRows=frames.flatMap((f,i)=>panelTags[i].map(t=>({x:fx(f,t[1]),y:fy(f,t[2]),t:t[0]})));
const headRows=headings.map(h=>({t:h[0],x:h[1],y:h[2]}));
const legendRows=legendTexts.map(h=>({t:h[0],x:h[1],y:h[2]}));
const rebarRow=[{t:rebarLabel[0],x:fx(scFrame,rebarLabel[1]),y:fy(scFrame,rebarLabel[2])}];
const serif="'Liberation Serif','Times New Roman',serif";
const lineOpt=(stroke,w,curve="linear")=>({x:"x",y:"y",z:"id",stroke,strokeWidth:w,strokeLinecap:"round",strokeLinejoin:"round",curve});
const txt=(size,anchor)=>({x:"x",y:"y",text:"t",fontSize:size,fontFamily:serif,textAnchor:anchor,lineAnchor:"middle",fill:"#000"});

const plot=Plot.plot({
  width:2606,height:3788,margin:0,
  x:{domain:[0,2606],axis:null},y:{domain:[3788,0],axis:null},
  style:{background:"#fff"},
  marks:[
    Plot.rect(boxRows,{x1:"x1",x2:"x2",y1:"y1",y2:"y2",stroke:"#000",strokeWidth:6.5,fill:"none"}),
    ...layerRows.map(l=>Plot.rect([l],{x1:"x1",x2:"x2",y1:"y1",y2:"y2",stroke:"#000",strokeWidth:6.5,fill:`url(#${l.id})`})),
    Plot.line(beamRows,lineOpt("#000",6)),
    Plot.line(rebarRows,lineOpt("#000",4.5)),
    Plot.line(dashRows,lineOpt("#000",5)),
    Plot.line(arrowRows,lineOpt("#4a0a0a",6)),
    Plot.line(tipRows,lineOpt("#4a0a0a",13)),
    Plot.text(labelRows,txt(23,"middle")),
    Plot.text(nameRows,txt(73,"start")),
    Plot.text(tagRows,txt(60,"start")),
    Plot.text(headRows,txt(75,"start")),
    Plot.text(rebarRow,txt(46,"start")),
    Plot.text(legendRows,txt(75,"start")),
    Plot.line(flexRows,lineOpt("#0000ff",11,"catmull-rom")),
    Plot.line(blobRows,lineOpt("#0000ff",18)),
    Plot.line(corrRows,lineOpt("#ff0000",7,"catmull-rom")),
    Plot.ruleY([legendCorr[2]],{x1:legendCorr[0],x2:legendCorr[1],stroke:"#ff0000",strokeWidth:7,strokeLinecap:"round"}),
    Plot.ruleY([legendFlex[2]],{x1:legendFlex[0],x2:legendFlex[1],stroke:"#0000ff",strokeWidth:12,strokeLinecap:"round"})
  ]
});
// Hatch fill for the strengthening layers
const hatchW=57.5,hatchH=50.2;
const defs=d3.select(plot).append("defs");
for(const l of layerRows){
  const pat=defs.append("pattern").attr("id",l.id).attr("patternUnits","userSpaceOnUse")
    .attr("x",l.bx).attr("y",l.y2-hatchH).attr("width",hatchW).attr("height",hatchH);
  pat.append("rect").attr("width",hatchW).attr("height",hatchH).attr("fill","#fff");
  pat.append("path").attr("d",`M${-hatchW/2},${hatchH*1.5}L${hatchW*1.5},${-hatchH/2}M${-hatchW},${hatchH}L${hatchW},${-hatchH}M0,${2*hatchH}L${2*hatchW},0`)
    .attr("stroke","#000").attr("stroke-width",6.5).attr("fill","none");
}
document.getElementById("chart").appendChild(plot);
</script></body></html>
